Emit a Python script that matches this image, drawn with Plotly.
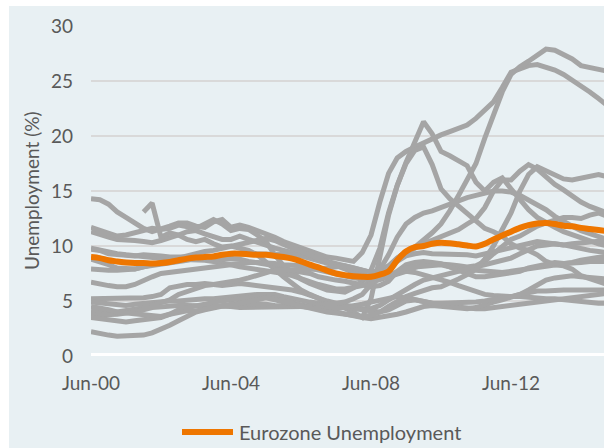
import pandas as pd
import plotly.graph_objects as go

# Quarterly observations: Jun-00 ... Mar-15 (rows = Jun, Sep, Dec, Mar of each year)
dates = pd.date_range("2000-06-01", periods=60, freq="3MS")

tick_vals = ["2000-06-01", "2004-06-01", "2008-06-01", "2012-06-01"]
tick_text = ["Jun-00", "Jun-04", "Jun-08", "Jun-12"]

eurozone = [
    9.0, 8.9, 8.7, 8.6,  8.5, 8.45, 8.45, 8.4,  8.45, 8.55, 8.7, 8.85,
    8.95, 9.0, 9.05, 9.2,  9.3, 9.3, 9.25, 9.2,  9.2, 9.1, 9.0, 8.85,
    8.6, 8.3, 8.05, 7.75,  7.5, 7.35, 7.25, 7.2,  7.2, 7.4, 7.7, 8.7,
    9.5, 9.9, 10.0, 10.2,  10.3, 10.25, 10.15, 10.05,  9.95, 10.2, 10.6, 10.95,
    11.3, 11.65, 11.9, 12.05,  12.1, 12.0, 11.85, 11.8,  11.65, 11.55, 11.45, 11.35,
]

spain = [
    14.3, 14.2, 13.8, 13.1,  12.6, 12.1, 11.6, 11.3,  11.5, 11.8, 12.1, 12.1,
    11.8, 11.7, 12.2, 12.4,  11.7, 11.9, 11.7, 11.4,  11.2, 10.8, 10.4, 10.1,
    9.9, 9.6, 9.3, 9.0,  8.9, 8.7, 8.6, 9.4,  11.0, 14.0, 16.6, 18.0,
    18.6, 19.0, 19.4, 19.7,  20.1, 20.4, 20.7, 21.0,  21.6, 22.4, 23.1, 24.4,
    25.8, 26.1, 26.4, 26.5,  26.3, 26.0, 25.6, 25.1,  24.5, 24.0, 23.4, 22.8,
]
greece = [
    11.3, 11.0, 10.8, 10.6,  10.6, 10.5, 10.4, 10.3,  10.5, 10.7, 11.0, 11.3,
    11.4, 11.1, 10.8, 10.6,  10.6, 10.9, 10.6, 10.3,  10.0, 9.8, 9.6, 9.4,
    9.1, 8.9, 8.7, 8.5,  8.3, 8.2, 8.0, 7.8,  7.6, 7.6, 8.1, 8.9,
    9.5, 9.9, 10.5, 11.2,  12.0, 13.2, 14.6, 16.0,  17.5, 19.8, 21.8, 24.0,
    25.6, 26.3, 26.8, 27.4,  27.9, 27.8, 27.4, 27.0,  26.4, 26.2, 26.0, 25.9,
]
latvia = [
    11.7, 11.4, 11.1, 10.9,  11.0, 11.2, 11.4, 11.6,  11.5, 11.6, 11.9, 11.7,
    11.6, 12.0, 12.4, 12.0,  11.4, 11.6, 11.5, 11.0,  10.4, 9.2, 8.2, 7.6,
    7.0, 6.6, 6.3, 6.0,  5.9, 5.8, 6.2, 6.8,  7.8, 9.8, 13.0, 15.5,
    17.6, 19.6, 21.3, 20.2,  18.6, 18.2, 17.8, 17.3,  15.8, 15.0, 15.8, 16.2,
    15.2, 14.2, 13.3, 12.6,  12.1, 11.7, 11.3, 11.0,  10.7, 10.5, 10.2, 10.0,
]
estonia = [
    None, None, None, None,  None, None, 13.1, 13.9,  10.8, 11.2, 11.0, 10.6,
    10.4, 10.6, 10.2, 9.9,  10.0, 9.8, 9.6, 9.2,  8.6, 7.9, 7.2, 6.6,
    6.0, 5.6, 5.2, 4.9,  4.7, 4.4, 4.0, 3.5,  5.2, 9.0, 12.8, 15.5,
    17.5, 18.7, 19.0, 17.4,  15.2, 14.3, 13.6, 13.0,  12.2, 11.6, 11.3, 10.9,
    10.2, 9.8, 9.6, 9.2,  8.6, 8.3, 8.2, 7.9,  7.3, 7.0, 6.7, 6.5,
]
italy = [
    9.8, 9.6, 9.4, 9.3,  9.2, 9.1, 9.0, 9.0,  8.9, 8.8, 8.8, 8.8,
    8.7, 8.7, 8.6, 8.5,  8.3, 8.1, 8.0, 7.9,  7.8, 7.7, 7.5, 7.3,
    7.0, 6.7, 6.5, 6.3,  6.1, 6.1, 6.2, 6.4,  6.7, 6.9, 7.2, 7.5,
    7.8, 8.0, 8.3, 8.4,  8.4, 8.3, 8.2, 8.1,  8.2, 8.6, 9.3, 10.0,
    10.6, 10.9, 11.4, 11.8,  12.1, 12.4, 12.6, 12.6,  12.5, 12.8, 13.0, 12.7,
]
finland = [
    9.7, 9.6, 9.3, 9.2,  9.1, 9.1, 9.2, 9.2,  9.1, 9.0, 9.0, 9.1,
    9.0, 8.9, 8.9, 8.8,  8.8, 8.8, 8.6, 8.5,  8.4, 8.2, 7.9, 7.8,
    7.7, 7.5, 7.2, 7.0,  6.9, 6.8, 6.6, 6.4,  6.3, 6.4, 6.8, 7.7,
    8.3, 8.5, 8.6, 8.5,  8.4, 8.1, 7.9, 7.8,  7.8, 7.7, 7.6, 7.6,
    7.7, 7.8, 7.9, 8.1,  8.2, 8.3, 8.4, 8.5,  8.7, 8.8, 9.0, 9.1,
]
france = [
    8.8, 8.6, 8.3, 8.0,  7.9, 7.9, 8.1, 8.2,  8.3, 8.5, 8.6, 8.7,
    8.9, 9.0, 9.1, 9.2,  9.3, 9.3, 9.3, 9.3,  9.3, 9.2, 9.2, 9.2,
    9.1, 8.9, 8.7, 8.5,  8.3, 8.0, 7.7, 7.5,  7.4, 7.6, 8.0, 8.6,
    9.1, 9.3, 9.4, 9.3,  9.3, 9.2, 9.2, 9.2,  9.1, 9.3, 9.5, 9.6,
    9.8, 10.0, 10.3, 10.4,  10.3, 10.2, 10.1, 10.2,  10.3, 10.4, 10.5, 10.5,
]
germany = [
    7.9, 7.8, 7.8, 7.8,  7.8, 7.9, 8.1, 8.3,  8.5, 8.7, 8.9, 9.2,
    9.4, 9.5, 9.6, 9.8,  9.9, 10.1, 10.3, 10.6,  10.7, 10.5, 10.1, 9.8,
    9.5, 9.2, 8.9, 8.5,  8.2, 7.9, 7.6, 7.3,  7.2, 7.1, 7.2, 7.5,
    7.7, 7.6, 7.4, 7.2,  7.0, 6.7, 6.4, 6.1,  5.9, 5.6, 5.5, 5.4,
    5.4, 5.4, 5.3, 5.3,  5.2, 5.2, 5.1, 5.0,  5.0, 4.9, 4.8, 4.8,
]
belgium = [
    6.7, 6.5, 6.4, 6.3,  6.3, 6.5, 6.9, 7.2,  7.5, 7.6, 7.7, 7.9,
    8.0, 8.1, 8.2, 8.3,  8.4, 8.4, 8.5, 8.5,  8.5, 8.4, 8.3, 8.3,
    8.2, 8.0, 7.8, 7.6,  7.4, 7.3, 7.1, 7.0,  6.9, 7.0, 7.3, 7.7,
    8.0, 8.1, 8.2, 8.3,  8.3, 8.1, 7.8, 7.4,  7.2, 7.2, 7.3, 7.4,
    7.5, 7.7, 8.0, 8.2,  8.4, 8.5, 8.4, 8.4,  8.5, 8.6, 8.6, 8.6,
]
slovenia = [
    5.2, 5.2, 5.3, 5.3,  5.3, 5.3, 5.3, 5.4,  5.6, 6.2, 6.4, 6.5,
    6.5, 6.6, 6.5, 6.4,  6.5, 6.6, 6.5, 6.4,  6.3, 6.3, 6.1, 6.0,
    5.8, 5.5, 5.2, 5.0,  4.8, 4.6, 4.5, 4.3,  4.3, 4.6, 5.1, 5.6,
    6.0, 6.5, 6.9, 7.1,  7.3, 7.5, 7.8, 8.0,  8.2, 8.4, 8.6, 8.8,
    8.9, 9.3, 9.7, 10.0,  10.1, 10.2, 10.1, 9.9,  9.7, 9.6, 9.5, 9.4,
]
austria = [
    4.9, 4.8, 4.7, 4.7,  4.6, 4.7, 4.8, 4.8,  4.9, 5.0, 5.0, 5.1,
    5.1, 5.2, 5.2, 5.3,  5.3, 5.4, 5.5, 5.6,  5.6, 5.6, 5.4, 5.2,
    5.0, 4.9, 4.8, 4.6,  4.5, 4.4, 4.3, 4.1,  4.0, 4.0, 4.2, 4.6,
    5.0, 5.1, 5.0, 4.8,  4.6, 4.5, 4.4, 4.3,  4.3, 4.3, 4.4, 4.5,
    4.6, 4.7, 4.8, 4.9,  5.0, 5.1, 5.2, 5.4,  5.5, 5.6, 5.6, 5.7,
]
portugal = [
    4.1, 4.0, 4.0, 4.0,  4.1, 4.2, 4.4, 4.6,  4.8, 5.1, 5.6, 5.9,
    6.2, 6.4, 6.5, 6.6,  6.7, 6.9, 7.1, 7.3,  7.6, 7.8, 7.8, 7.8,
    7.8, 7.9, 7.9, 8.0,  8.1, 8.2, 8.0, 7.8,  7.6, 7.8, 8.2, 8.9,
    9.4, 9.8, 10.2, 10.5,  10.8, 11.1, 11.5, 12.0,  12.5, 13.5, 15.0, 16.0,
    16.0, 16.8, 17.4, 17.0,  16.3, 15.6, 15.1, 14.5,  14.0, 13.6, 13.3, 13.0,
]
ireland = [
    3.7, 3.7, 3.8, 3.8,  3.9, 4.0, 4.2, 4.4,  4.5, 4.5, 4.6, 4.6,
    4.6, 4.6, 4.5, 4.5,  4.5, 4.4, 4.4, 4.4,  4.4, 4.4, 4.5, 4.5,
    4.5, 4.6, 4.6, 4.7,  4.8, 4.9, 5.2, 5.6,  6.5, 7.8, 9.2, 10.8,
    12.0, 12.6, 13.0, 13.2,  13.5, 13.9, 14.2, 14.4,  14.6, 14.8, 15.0, 15.0,
    14.9, 14.6, 14.2, 13.8,  13.3, 12.7, 12.2, 11.8,  11.4, 11.1, 10.8, 10.6,
]
netherlands = [
    3.5, 3.4, 3.2, 3.1,  3.1, 3.2, 3.3, 3.4,  3.5, 3.8, 4.2, 4.4,
    4.5, 4.7, 4.9, 5.0,  5.1, 5.3, 5.4, 5.4,  5.4, 5.2, 5.0, 4.8,
    4.7, 4.5, 4.3, 4.1,  4.0, 3.8, 3.6, 3.5,  3.4, 3.5, 3.6, 3.8,
    4.0, 4.3, 4.5, 4.6,  4.5, 4.4, 4.4, 4.3,  4.4, 4.7, 4.9, 5.1,
    5.3, 5.6, 6.0, 6.5,  6.9, 7.1, 7.2, 7.3,  7.2, 7.1, 7.0, 7.0,
]
luxembourg = [
    2.2, 2.0, 1.9, 1.8,  1.8, 1.8, 1.9, 2.1,  2.4, 2.8, 3.2, 3.6,
    4.0, 4.2, 4.4, 4.6,  4.7, 4.8, 4.8, 4.8,  4.7, 4.6, 4.6, 4.6,
    4.5, 4.4, 4.3, 4.3,  4.3, 4.4, 4.5, 4.7,  4.9, 5.1, 5.3, 5.4,
    5.3, 5.1, 4.9, 4.8,  4.8, 4.8, 4.8, 4.9,  4.9, 5.0, 5.1, 5.2,
    5.4, 5.6, 5.8, 5.9,  5.9, 6.0, 6.0, 6.0,  6.0, 6.0, 6.0, 6.0,
]
cyprus = [
    4.5, 4.4, 4.2, 4.0,  3.9, 3.8, 3.7, 3.7,  3.6, 3.8, 4.0, 4.1,
    4.1, 4.3, 4.5, 4.6,  4.6, 4.8, 5.0, 5.2,  5.3, 5.1, 4.9, 4.7,
    4.6, 4.4, 4.2, 4.0,  3.9, 3.8, 3.7, 3.6,  3.7, 4.0, 4.5, 5.0,
    5.4, 5.7, 6.0, 6.2,  6.3, 6.6, 7.0, 7.4,  7.9, 8.8, 10.0, 11.5,
    13.0, 15.0, 16.5, 17.2,  16.8, 16.4, 16.1, 16.0,  16.2, 16.4, 16.5, 16.3,
]

countries = {
    "Spain": spain, "Greece": greece, "Latvia": latvia, "Estonia": estonia,
    "Italy": italy, "Finland": finland, "France": france, "Germany": germany,
    "Belgium": belgium, "Slovenia": slovenia, "Austria": austria,
    "Portugal": portugal, "Ireland": ireland, "Netherlands": netherlands,
    "Luxembourg": luxembourg, "Cyprus": cyprus,
}

GRAY = "#A5A5A5"
ORANGE = "#EE7600"
TEXT = "#595959"
PANEL = "#E8F0F3"
FONT = "Lato"

fig = go.Figure()
for name, vals in countries.items():
    fig.add_trace(go.Scatter(
        x=dates, y=vals, mode="lines", name=name, showlegend=False,
        line=dict(color=GRAY, width=5), connectgaps=False, hoverinfo="skip",
    ))
fig.add_trace(go.Scatter(
    x=dates, y=eurozone, mode="lines", name="Eurozone Unemployment",
    showlegend=False, line=dict(color=ORANGE, width=6, shape="spline", smoothing=0.8),
))

L, R, T, B = 91, 0, 26, 92
W, H = 604, 448
pw, ph = W - L - R, H - T - B


def px(x):
    return (x - L) / pw


def py(y):
    return (H - B - y) / ph


fig.update_layout(
    width=W, height=H,
    margin=dict(l=L, r=R, t=T, b=B, pad=0),
    paper_bgcolor="white",
    plot_bgcolor=PANEL,
    font=dict(family=FONT, size=19, color=TEXT),
    xaxis=dict(
        type="date", range=["2000-06-01", "2015-01-27"],
        tickvals=tick_vals, ticktext=tick_text,
        showgrid=False, zeroline=False, showline=False, ticks="",
        ticklabelstandoff=14,
        tickfont=dict(family=FONT, size=19, color=TEXT),
    ),
    yaxis=dict(
        range=[0, 30], tickvals=[0, 5, 10, 15, 20, 25, 30],
        showgrid=True, gridcolor="#D9D9D9", gridwidth=1.5,
        zeroline=False, showline=False, ticks="",
        ticklabelstandoff=17,
        tickfont=dict(family=FONT, size=19, color=TEXT),
    ),
    shapes=[
        dict(type="rect", xref="paper", yref="paper",
             x0=px(9), x1=px(604), y0=py(448), y1=py(6),
             fillcolor=PANEL, line=dict(width=0), layer="below"),
        dict(type="line", xref="paper", yref="y", x0=0, x1=1, y0=0, y1=0,
             line=dict(color="white", width=6), layer="above"),
        dict(type="line", xref="paper", yref="paper",
             x0=px(182), x1=px(233), y0=py(432), y1=py(432),
             line=dict(color=ORANGE, width=6), layer="above"),
    ],
    annotations=[
        dict(text="Unemployment (%)", xref="paper", yref="paper",
             x=px(31), y=py(191), textangle=-90, showarrow=False,
             xanchor="center", yanchor="middle",
             font=dict(family=FONT, size=19, color=TEXT)),
        dict(text="Eurozone Unemployment", xref="paper", yref="paper",
             x=px(237), y=py(432), showarrow=False,
             xanchor="left", yanchor="middle",
             font=dict(family=FONT, size=20, color=TEXT)),
    ],
)

fig.write_html(
    "out.html",
    config={"displayModeBar": False},
    post_script="document.body.style.margin='0';document.body.style.overflow='hidden';",
)
